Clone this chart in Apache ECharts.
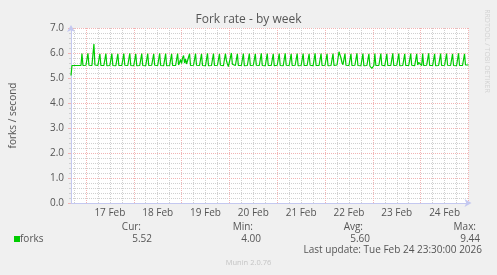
<!DOCTYPE html>
<html><head><meta charset="utf-8">
<script src="https://cdn.jsdelivr.net/npm/echarts@6/dist/echarts.min.js"></script>
<style>html,body{margin:0;padding:0;background:#F0F0F0;}#c{width:497px;height:275px;}</style>
</head><body><div id="c"></div>
<script>
// Time range: first sample Feb 16 16:30 UTC, one sample every 30 minutes
const startTime = Date.UTC(2026, 1, 16, 16, 30);
const stepMs = 30 * 60 * 1000;
const dayLabels = ['17 Feb', '18 Feb', '19 Feb', '20 Feb', '21 Feb', '22 Feb', '23 Feb', '24 Feb'];
const yTicks = [0, 1, 2, 3, 4, 5, 6, 7];
const forks = [
5.10,5.50,5.50,5.49,5.50,5.50,5.51,5.50,5.49,5.50,5.50,
5.98,5.50,5.49,5.50,5.51,5.50,
5.99,5.51,5.50,5.49,5.50,5.50,
6.36,5.52,5.50,5.49,5.50,5.51,
5.97,5.50,5.50,5.48,5.50,5.50,
5.98,5.49,5.50,5.51,5.50,5.49,
5.98,5.50,5.51,5.50,5.49,5.50,
5.97,5.50,5.50,5.49,5.50,5.51,
5.98,5.51,5.49,5.50,5.50,5.50,
5.99,5.50,5.50,5.51,5.49,5.50,
5.97,5.49,5.50,5.50,5.50,5.49,
5.98,5.50,5.51,5.50,5.49,5.50,
5.98,5.50,5.49,5.50,5.51,5.50,
5.97,5.51,5.50,5.49,5.50,5.50,
5.99,5.50,5.50,5.50,5.49,5.51,
5.98,5.49,5.50,5.51,5.50,5.50,
5.97,5.50,5.49,5.50,5.50,5.49,
5.98,5.52,5.62,5.74,5.58,5.80,
5.90,5.60,5.76,5.56,5.52,5.50,
5.97,5.50,5.49,5.50,5.51,5.50,
5.98,5.51,5.50,5.49,5.50,5.50,
5.97,5.50,5.50,5.51,5.49,5.50,
5.99,5.49,5.50,5.50,5.50,5.51,
5.98,5.50,5.49,5.50,5.51,5.50,
5.97,5.51,5.50,5.50,5.49,5.50,
5.98,5.70,5.56,5.46,5.48,5.50,
6.00,5.55,5.50,5.49,5.50,5.51,
5.97,5.50,5.50,5.51,5.50,5.49,
5.98,5.49,5.51,5.50,5.50,5.50,
5.98,5.50,5.50,5.49,5.51,5.50,
5.97,5.51,5.49,5.50,5.50,5.50,
5.99,5.50,5.50,5.50,5.49,5.51,
5.98,5.50,5.51,5.49,5.50,5.50,
5.97,5.49,5.50,5.50,5.51,5.50,
5.98,5.50,5.50,5.51,5.49,5.50,
5.99,5.51,5.49,5.50,5.50,5.49,
5.97,5.50,5.50,5.50,5.51,5.50,
5.98,5.49,5.51,5.50,5.50,5.50,
5.98,5.50,5.50,5.49,5.50,5.51,
5.97,5.51,5.50,5.50,5.49,5.50,
5.99,5.50,5.49,5.51,5.50,5.50,
5.98,5.50,5.50,5.50,5.51,5.49,
5.97,5.49,5.51,5.50,5.50,5.50,
5.98,5.50,5.50,5.49,5.52,5.58,
6.05,5.99,5.80,5.62,5.53,5.50,
5.98,5.51,5.50,5.49,5.50,5.50,
5.97,5.50,5.49,5.50,5.51,5.50,
5.99,5.50,5.51,5.50,5.49,5.50,
5.98,5.49,5.50,5.50,5.50,5.51,
5.97,5.48,5.42,5.38,5.44,5.50,
5.98,5.50,5.51,5.49,5.50,5.50,
5.98,5.51,5.50,5.50,5.49,5.50,
5.97,5.50,5.45,5.51,5.50,5.50,
5.99,5.50,5.50,5.50,5.51,5.49,
5.98,5.49,5.51,5.50,5.50,5.50,
5.97,5.50,5.50,5.49,5.50,5.51,
5.98,5.51,5.50,5.50,5.49,5.50,
5.97,5.52,5.62,5.66,5.56,5.50,
5.98,5.50,5.49,5.50,5.51,5.50,
5.99,5.50,5.50,5.51,5.50,5.49,
5.97,5.49,5.51,5.50,5.50,5.50,
5.98,5.50,5.50,5.49,5.51,5.50,
5.98,5.51,5.49,5.50,5.50,5.50,
5.97,5.50,5.50,5.50,5.49,5.51,
5.99,5.50,5.51,5.50,5.50,5.49,
5.97,5.52,5.50,5.51,5.52
];
const legendName = 'forks';
const statLabels = ['Cur:', 'Min:', 'Avg:', 'Max:'];
const statValues = ['5.52', '4.00', '5.60', '9.44'];
const titleText = 'Fork rate - by week';
const yAxisName = 'forks / second';
const lastUpdate = 'Last update: Tue Feb 24 23:30:00 2026';
const footer = 'Munin 2.0.76';
const sideText = 'RRDTOOL / TOBI OETIKER';

const times = forks.map((v, i) => String(startTime + i * stepMs));
const hr = v => new Date(+v).getUTCHours();
const mn = v => new Date(+v).getUTCMinutes();

const FONT = 'Open Sans';
const TXT = '#555';
const AXIS = '#C4C8F0';
const MAJOR = '#F2B4B4';
const MINOR = '#D0D0D0';
const GREEN = '#00CC00';

const statX = [[141, 152], [253, 261], [363, 370], [476, 480]];
const graphics = [];
graphics.push({type:'text', x:248.5, y:20, style:{text:titleText, fill:TXT, font:'12px "Open Sans"', align:'center', verticalAlign:'middle'}});
graphics.push({type:'rect', shape:{x:14, y:236, width:6, height:6}, style:{fill:GREEN}});
graphics.push({type:'text', x:20, y:239, style:{text:legendName, fill:TXT, font:'10px "Open Sans"', align:'left', verticalAlign:'middle'}});
statLabels.forEach((s, i) => {
  graphics.push({type:'text', x:statX[i][0], y:227, style:{text:s, fill:TXT, font:'10px "Open Sans"', align:'right', verticalAlign:'middle'}});
  graphics.push({type:'text', x:statX[i][1], y:239, style:{text:statValues[i], fill:TXT, font:'10px "Open Sans"', align:'right', verticalAlign:'middle'}});
});
graphics.push({type:'text', x:482, y:250.5, style:{text:lastUpdate, fill:TXT, font:'10px "Open Sans"', align:'right', verticalAlign:'middle'}});
graphics.push({type:'text', x:248.5, y:263, style:{text:footer, fill:'#C4C4C4', font:'7.5px "Open Sans"', align:'center', verticalAlign:'middle'}});
graphics.push({type:'text', x:487, y:51, rotation:-Math.PI/2, style:{text:sideText, fill:'#D2D2D2', font:'7px "Open Sans"', align:'center', verticalAlign:'middle'}});

const chart = echarts.init(document.getElementById('c'), null, {renderer:'canvas'});
chart.setOption({
  animation: false,
  backgroundColor: '#F0F0F0',
  grid: {left:67, right:28.5, top:28, bottom:72, show:true, backgroundColor:'#FFFFFF', borderWidth:0},
  xAxis: [
    {
      type:'category', data: times, boundaryGap:false,
      axisLine:{show:true, lineStyle:{color:AXIS, width:1}, symbol:['none','arrow'], symbolSize:[6,7], symbolOffset:[0,3]},
      axisTick:{show:false},
      axisLabel:{interval:(i, v) => hr(v) === 12 && mn(v) === 0,
        formatter: v => dayLabels[new Date(+v).getUTCDate() - 17],
        color:TXT, fontFamily:FONT, fontSize:10, margin:5},
      splitLine:{show:true, interval:(i, v) => hr(v) === 0 && mn(v) === 0, lineStyle:{color:MAJOR, width:1, type:[1,1]}},
      z: 3
    },
    {
      type:'category', data: times, boundaryGap:false, position:'bottom',
      axisLine:{show:false}, axisTick:{show:false}, axisLabel:{show:false},
      splitLine:{show:true, interval:(i, v) => mn(v) === 0 && hr(v) % 6 === 0 && hr(v) !== 0, lineStyle:{color:MINOR, width:1, type:[1,1]}},
      z: 2
    }
  ],
  yAxis: {
    type:'value', min:0, max:7, interval:1,
    axisLine:{show:true, lineStyle:{color:AXIS, width:1}, symbol:['none','arrow'], symbolSize:[6,7], symbolOffset:[0,3]},
    axisTick:{show:true, length:3, lineStyle:{color:MAJOR}},
    minorTick:{show:true, splitNumber:5, length:2, lineStyle:{color:MINOR}},
    axisLabel:{formatter: v => yTicks.indexOf(v) >= 0 ? v.toFixed(1) : '', color:TXT, fontFamily:FONT, fontSize:10, margin:7},
    splitLine:{show:true, lineStyle:{color:MAJOR, width:1, type:[1,1]}},
    minorSplitLine:{show:true, lineStyle:{color:MINOR, width:1, type:[1,1]}},
    name: yAxisName, nameLocation:'middle', nameGap:53, nameRotate:90,
    nameTextStyle:{color:TXT, fontFamily:FONT, fontSize:10}
  },
  series: [{
    type:'line', data: forks, xAxisIndex:0, yAxisIndex:0,
    showSymbol:false, symbol:'none',
    lineStyle:{color:GREEN, width:1.2}, itemStyle:{color:GREEN}, z:5
  }],
  graphic: graphics
});
</script>
</body></html>
